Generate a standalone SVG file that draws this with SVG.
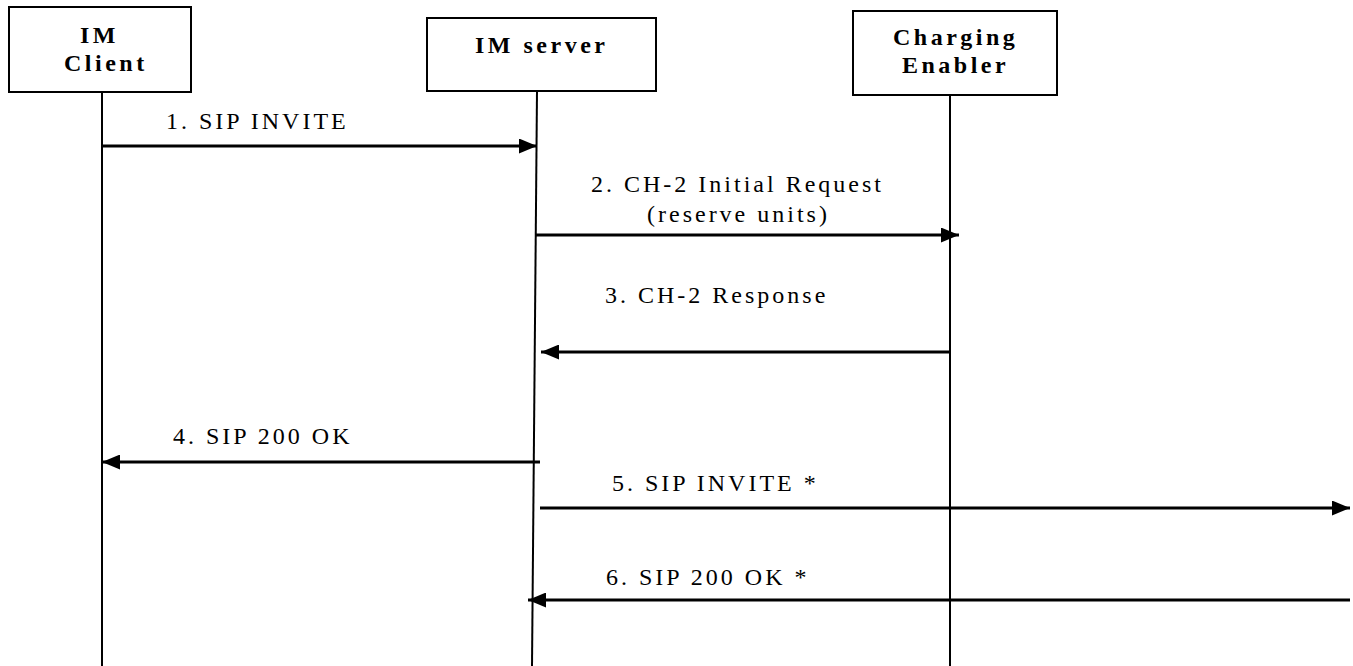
<svg xmlns="http://www.w3.org/2000/svg" width="1353" height="666" viewBox="0 0 1353 666">
<style>
.box{fill:#fff;stroke:#000;stroke-width:2}
.life{stroke:#000;stroke-width:2;fill:none}
.msg{stroke:#000;stroke-width:3;fill:none}
.nt{font-family:"Liberation Serif",serif;font-weight:bold;font-size:24px;letter-spacing:3.5px;fill:#000}
.lb{font-family:"Liberation Serif",serif;font-size:24px;letter-spacing:3px;fill:#000}
</style>
<defs>
<marker id="ah" viewBox="0 0 18 15" refX="18" refY="7.5" markerWidth="18" markerHeight="15" markerUnits="userSpaceOnUse" orient="auto">
<path d="M0,0 L18,7.5 L0,15 Z" fill="#000"/>
</marker>
</defs>
<rect width="1353" height="666" fill="#fff"/>
<g id="lifelines">
<line class="life" x1="102" y1="92" x2="102" y2="666"/>
<line class="life" x1="537" y1="91" x2="532" y2="666"/>
<line class="life" x1="950" y1="95" x2="950" y2="666"/>
</g>
<g id="im-client">
<rect class="box" x="9" y="7" width="182" height="85"/>
<text class="nt" x="80" y="43">IM</text>
<text class="nt" x="64" y="71">Client</text>
</g>
<g id="im-server">
<rect class="box" x="427" y="18" width="229" height="73"/>
<text class="nt" x="475" y="53">IM server</text>
</g>
<g id="charging-enabler">
<rect class="box" x="853" y="11" width="204" height="84"/>
<text class="nt" x="893" y="45">Charging</text>
<text class="nt" x="902" y="73">Enabler</text>
</g>
<g id="connectors">
<line class="msg" x1="102" y1="146" x2="537" y2="146" marker-end="url(#ah)"/>
<line class="msg" x1="536" y1="235" x2="959" y2="235" marker-end="url(#ah)"/>
<line class="msg" x1="951" y1="352" x2="541" y2="352" marker-end="url(#ah)"/>
<line class="msg" x1="540" y1="462" x2="102" y2="462" marker-end="url(#ah)"/>
<line class="msg" x1="540" y1="508" x2="1350" y2="508" marker-end="url(#ah)"/>
<line class="msg" x1="1350" y1="600" x2="528" y2="600" marker-end="url(#ah)"/>
</g>
<g id="labels">
<text class="lb" x="166" y="129">1. SIP INVITE</text>
<text class="lb" x="591" y="192">2. CH-2 Initial Request</text>
<text class="lb" x="647" y="222">(reserve units)</text>
<text class="lb" x="605" y="303">3. CH-2 Response</text>
<text class="lb" x="173" y="444">4. SIP 200 OK</text>
<text class="lb" x="612" y="491">5. SIP INVITE *</text>
<text class="lb" x="606" y="585">6. SIP 200 OK *</text>
</g>
</svg>
